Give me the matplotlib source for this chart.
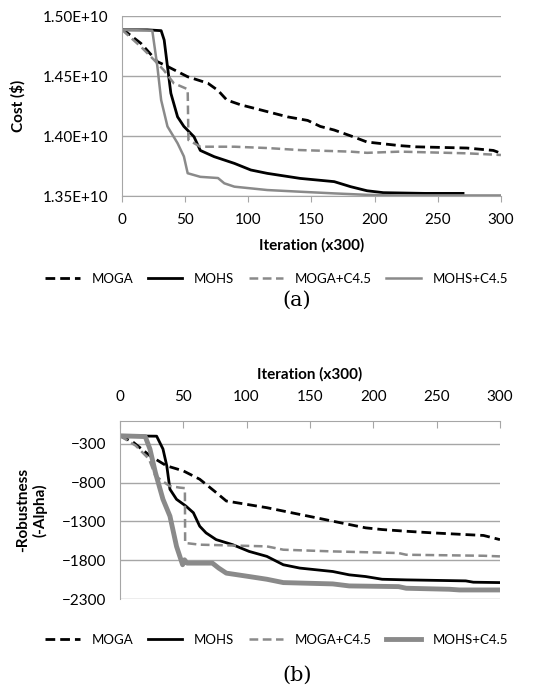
import numpy as np
import matplotlib
matplotlib.use("Agg")
import matplotlib.pyplot as plt

plt.rcParams['font.family'] = ['Lato', 'DejaVu Sans']

# ---- (a) cost, values in units of 1E+10 ----
moga_a_x = [0, 2, 15, 28, 36, 52, 68, 76, 83, 94, 110, 131, 147, 157, 168, 183, 194, 220, 233, 273, 294, 300]
moga_a_y = [1.4885, 1.4878, 1.4772, 1.462, 1.458, 1.4494, 1.444, 1.438, 1.430, 1.426, 1.4217, 1.416, 1.413,
            1.408, 1.405, 1.3994, 1.395, 1.392, 1.391, 1.390, 1.388, 1.3856]

mohs_a_x = [0, 20, 31, 33.4, 36, 38.7, 44, 49, 57, 62, 73, 89, 102, 115, 141, 168, 181, 194, 207, 240, 270]
mohs_a_y = [1.4885, 1.4885, 1.4878, 1.480, 1.458, 1.4356, 1.416, 1.408, 1.3994, 1.388, 1.3828, 1.3772,
            1.3717, 1.3689, 1.3647, 1.362, 1.3578, 1.3544, 1.3528, 1.3522, 1.3522]

mogac_a_x = [0, 15, 25.5, 33, 41, 52, 52.6, 62, 89, 115, 141, 181, 194, 220, 273, 300]
mogac_a_y = [1.4885, 1.4744, 1.4633, 1.455, 1.444, 1.439, 1.3967, 1.3911, 1.3911, 1.390, 1.3883, 1.387,
             1.386, 1.387, 1.3856, 1.3842]

mohsc_a_x = [0, 24, 28, 31, 36, 44, 49, 52, 62, 76, 81, 89, 115, 141, 168, 194, 220, 300]
mohsc_a_y = [1.4885, 1.4878, 1.458, 1.430, 1.408, 1.394, 1.383, 1.369, 1.366, 1.365, 1.3606, 1.3578,
             1.355, 1.3536, 1.3522, 1.351, 1.3505, 1.3505]

# ---- (b) -robustness ----
moga_b_x = [0, 10.5, 23.7, 36.8, 50, 63, 76, 84, 116, 142, 155, 168, 181, 194, 207, 226, 247, 273, 287, 300]
moga_b_y = [-195, -278, -452, -582, -647, -755, -927, -1036, -1122, -1209, -1252, -1296, -1339, -1382,
            -1404, -1426, -1447, -1469, -1480, -1534]

mohs_b_x = [0, 29, 34, 37, 39.5, 44.7, 52, 58, 63, 68, 76, 89, 102, 116, 129, 142, 168, 181, 194, 207,
            226, 273, 279, 300]
mohs_b_y = [-195, -200, -365, -582, -884, -1014, -1100, -1187, -1361, -1447, -1534, -1599, -1686, -1750,
            -1858, -1901, -1945, -1988, -2010, -2045, -2053, -2066, -2083, -2088]

mogac_b_x = [0, 12.5, 23, 28, 39, 47, 51.3, 51.5, 63, 116, 129, 168, 220, 226, 287, 300]
mogac_b_y = [-195, -322, -495, -712, -841, -863, -870, -1577, -1599, -1621, -1664, -1686, -1707, -1729,
             -1742, -1750]

mohsc_b_x = [0, 20, 23.7, 28, 34, 39.5, 44.7, 49.5, 51, 53, 73, 78, 84, 102, 116, 129, 168, 181, 220,
             226, 260, 268, 300]
mohsc_b_y = [-195, -205, -365, -668, -1014, -1231, -1621, -1858, -1794, -1837, -1837, -1901, -1966, -2010,
             -2045, -2088, -2105, -2131, -2140, -2161, -2174, -2183, -2183]

labels = ['MOGA', 'MOHS', 'MOGA+C4.5', 'MOHS+C4.5']
x_ticks = [0, 50, 100, 150, 200, 250, 300]
grey = '#8a8a8a'
axis_grey = '#a6a6a6'

fig = plt.figure(figsize=(5.5, 6.91), dpi=100)

# (a)
ax1 = fig.add_axes([0.2218, 0.7163, 0.689, 0.2605])
ax1.plot(moga_a_x, moga_a_y, color='black', lw=2, dashes=(3.5, 1.8), label=labels[0])
ax1.plot(mohs_a_x, mohs_a_y, color='black', lw=2, label=labels[1])
ax1.plot(mogac_a_x, mogac_a_y, color=grey, lw=1.8, dashes=(3.5, 1.8), label=labels[2])
ax1.plot(mohsc_a_x, mohsc_a_y, color=grey, lw=1.8, label=labels[3])
ax1.set_xlim(0, 300)
ax1.set_ylim(1.35, 1.50)
ax1.set_xticks(x_ticks)
ax1.set_yticks([1.35, 1.40, 1.45, 1.50])
ax1.set_yticklabels(['1.35E+10', '1.40E+10', '1.45E+10', '1.50E+10'])
ax1.yaxis.grid(True, color=axis_grey, lw=1)
ax1.set_axisbelow(True)
for s in ['top', 'right']:
    ax1.spines[s].set_visible(False)
for s in ['left', 'bottom']:
    ax1.spines[s].set_color(axis_grey)
ax1.tick_params(axis='x', direction='out', length=4, color=axis_grey, labelsize=11, pad=8)
ax1.tick_params(axis='y', length=0, labelsize=11, pad=10)
ax1.set_xlabel('Iteration (x300)', fontsize=11, fontweight='bold', labelpad=8)
ax1.set_ylabel('Cost ($)', fontsize=11, fontweight='bold', labelpad=12)
ax1.legend(loc='center', bbox_to_anchor=(0.503, 1 - 279 / 691), bbox_transform=fig.transFigure,
           ncol=4, frameon=False, fontsize=9.5, handlelength=2.6, handletextpad=0.9, columnspacing=1.1)
fig.text(0.54, 1 - 300 / 691, '(a)', family='DejaVu Serif', fontsize=15, ha='center', va='center')

# (b)
ax2 = fig.add_axes([0.218, 0.1331, 0.691, 0.2581])
ax2.plot(moga_b_x, moga_b_y, color='black', lw=2, dashes=(3.5, 1.8), label=labels[0])
ax2.plot(mohs_b_x, mohs_b_y, color='black', lw=2, label=labels[1])
ax2.plot(mogac_b_x, mogac_b_y, color=grey, lw=1.8, dashes=(3.5, 1.8), label=labels[2])
ax2.plot(mohsc_b_x, mohsc_b_y, color=grey, lw=3.5, label=labels[3])
ax2.set_xlim(0, 300)
ax2.set_ylim(-2300, 0)
ax2.set_xticks(x_ticks)
ax2.set_yticks([-2300, -1800, -1300, -800, -300])
ax2.xaxis.tick_top()
ax2.xaxis.set_label_position('top')
ax2.yaxis.grid(True, color=axis_grey, lw=1)
ax2.set_axisbelow(True)
for s in ['bottom', 'right']:
    ax2.spines[s].set_visible(False)
for s in ['left', 'top']:
    ax2.spines[s].set_color(axis_grey)
ax2.tick_params(axis='x', direction='in', length=5, color=axis_grey, labelsize=11, pad=12)
ax2.tick_params(axis='y', length=0, labelsize=11, pad=10)
ax2.set_xlabel('Iteration (x300)', fontsize=11, fontweight='bold', labelpad=8)
ax2.set_ylabel('-Robustness\n(-Alpha)', fontsize=11, fontweight='bold', labelpad=10)
ax2.legend(loc='center', bbox_to_anchor=(0.503, 1 - 640 / 691), bbox_transform=fig.transFigure,
           ncol=4, frameon=False, fontsize=9.5, handlelength=2.6, handletextpad=0.9, columnspacing=1.1)
fig.text(0.54, 1 - 675 / 691, '(b)', family='DejaVu Serif', fontsize=15, ha='center', va='center')

fig.savefig('out.png', dpi=100)
